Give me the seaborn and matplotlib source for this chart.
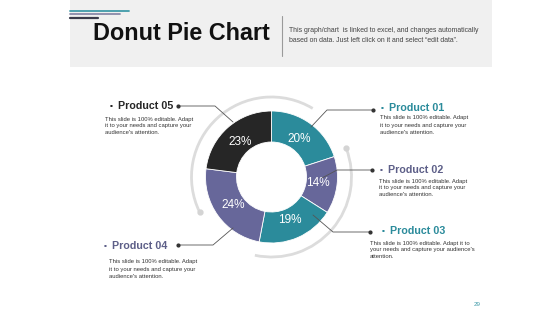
import matplotlib
matplotlib.use("Agg")
import matplotlib.pyplot as plt
from matplotlib.patches import Arc, Rectangle
import numpy as np
import seaborn as sns

# ---- data ----
products = ["Product 01", "Product 02", "Product 03", "Product 04", "Product 05"]
shares = [20, 14, 19, 24, 23]
title = "Donut Pie Chart"
subtitle = ["This graph/chart  is linked to excel, and changes automatically",
            "based on data. Just left click on it and select \u201cedit data\u201d."]
desc_a = ["This slide is 100% editable. Adapt",
          "it to your needs and capture your",
          "audience's attention."]
desc_b = ["This slide is 100% editable. Adapt it to",
          "your needs and capture your audience's",
          "attention."]
page_no = "29"

sns.set_theme(style="white")
plt.rcParams['font.family'] = ['Liberation Sans', 'DejaVu Sans']

teal = "#2b8b9b"
purple = "#67679a"
dark = "#262626"
palette = sns.color_palette([teal, purple, teal, purple, dark])

W, H = 560, 315
fig = plt.figure(figsize=(W / 100, H / 100), dpi=100)
fig.patch.set_facecolor("white")

# background / annotation axes in pixel coordinates
bg = fig.add_axes([0, 0, 1, 1])
bg.set_xlim(0, W)
bg.set_ylim(H, 0)
bg.axis("off")

bg.add_patch(Rectangle((70, 0), 422, 67, facecolor="#f0f0f0", edgecolor="none"))
bg.plot([70, 129], [11, 11], color="#3f9aa8", lw=1.3)
bg.plot([70, 120], [14, 14], color="#8a8aa8", lw=1.3)
bg.plot([70, 98], [18, 18], color="#3a3a4a", lw=1.6)
bg.text(93, 33, title, fontsize=16.8, fontweight="bold", color="#111111",
        va="center", ha="left")
bg.plot([282, 282], [16, 56], color="#9a9a9a", lw=0.8)
bg.text(289, 31, subtitle[0], fontsize=4.95, color="#444444", va="center")
bg.text(289, 40, subtitle[1], fontsize=4.95, color="#444444", va="center")
bg.text(477, 305, page_no, fontsize=4.5, color="#3f9aa8", ha="center", va="center")

# donut axes
cx, cy, half = 271.5, 177, 88
pax = fig.add_axes([(cx - half) / W, (H - cy - half) / H, 2 * half / W, 2 * half / H])
wedges, texts, autotexts = pax.pie(
    shares, colors=palette, startangle=90, counterclock=False, radius=66,
    autopct=lambda p: f"{p:.0f}%", pctdistance=0.71,
    wedgeprops=dict(width=31, edgecolor="white", linewidth=0.6),
    textprops=dict(color="white", fontsize=8.5))
R = 80
pax.add_patch(Arc((0, 0), 2 * R, 2 * R, theta1=59, theta2=206, color="#dcdcdc", lw=2))
pax.add_patch(Arc((0, 0), 2 * R, 2 * R, theta1=-102, theta2=21, color="#dcdcdc", lw=2))
for a in (206, 21):
    pax.plot(R * np.cos(np.radians(a)), R * np.sin(np.radians(a)), "o",
             color="#d4d4d4", ms=3.5)
pax.set_xlim(-half, half)
pax.set_ylim(-half, half)
pax.set_aspect("equal")
pax.axis("off")

# overlay for leader lines and labels
ov = fig.add_axes([0, 0, 1, 1])
ov.set_xlim(0, W)
ov.set_ylim(H, 0)
ov.axis("off")

leaders = [
    [(373, 110), (327, 110), (311, 127)],
    [(372, 170), (337, 170), (322, 178)],
    [(370, 232), (333, 232), (313, 215)],
    [(178, 245), (213, 245), (233, 228)],
    [(178, 106), (215, 106), (233, 122)],
]
for pts in leaders:
    xs, ys = zip(*pts)
    ov.plot(xs, ys, color="#555555", lw=0.6)
    ov.plot(xs[0], ys[0], "o", color="#333333", ms=2)

label_pos = {
    "Product 01": (381, 108, teal, 380, 118, desc_a),
    "Product 02": (380, 170, "#5d5f88", 379, 181, desc_a),
    "Product 03": (382, 231, teal, 370, 243, desc_b),
    "Product 04": (104, 246, "#5d5f88", 109, 262, desc_a),
    "Product 05": (110, 106, dark, 105, 119, desc_a),
}
for name in products:
    bx, by, col, dx, dy, lines = label_pos[name]
    ov.text(bx, by, "\u25aa", fontsize=6, color=col, va="center", ha="left")
    ov.text(bx + 8, by, name, fontsize=7.7, fontweight="bold", color=col,
            va="center", ha="left")
    for i, ln in enumerate(lines):
        ov.text(dx, dy + 7 * i, ln, fontsize=4.2, color="#333333",
                va="center", ha="left")

fig.savefig("out.png", dpi=100, facecolor="white")
